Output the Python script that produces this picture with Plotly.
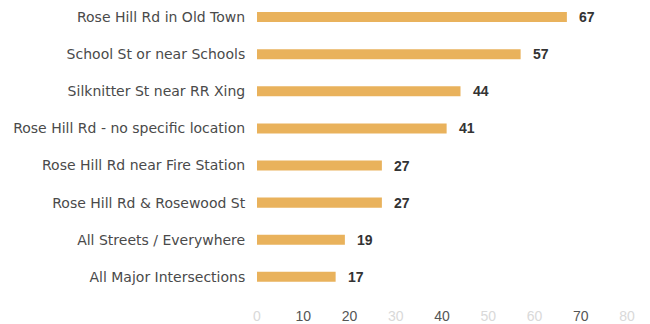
import plotly.graph_objects as go

# Survey responses by location
locations = [
    "Rose Hill Rd in Old Town",
    "School St or near Schools",
    "Silknitter St near RR Xing",
    "Rose Hill Rd - no specific location",
    "Rose Hill Rd near Fire Station",
    "Rose Hill Rd & Rosewood St",
    "All Streets / Everywhere",
    "All Major Intersections",
]
counts = [67, 57, 44, 41, 27, 27, 19, 17]

tick_vals = [0, 10, 20, 30, 40, 50, 60, 70, 80]
faint_ticks = {0, 30, 50, 60, 80}
tick_text = [
    f"<span style='color:#d9d9d9'>{v}</span>" if v in faint_ticks else str(v)
    for v in tick_vals
]

bar_color = "#E9B25C"
label_font = "DejaVu Sans, Verdana, sans-serif"
num_font = "Liberation Sans, Arial, sans-serif"

fig = go.Figure(
    go.Bar(
        x=counts,
        y=locations,
        orientation="h",
        marker=dict(color=bar_color, line=dict(width=0)),
        width=0.27,
    )
)

for loc, val in zip(locations, counts):
    fig.add_annotation(
        x=val, y=loc, text=f"<b>{val}</b>", showarrow=False,
        xanchor="left", xshift=10, yshift=0,
        font=dict(family=num_font, size=14, color="#333333"),
    )

fig.update_layout(
    width=650, height=324,
    margin=dict(l=257, r=23, t=0, b=26),
    paper_bgcolor="white", plot_bgcolor="white",
    showlegend=False,
    xaxis=dict(
        range=[0, 80], tickvals=tick_vals, ticktext=tick_text,
        showgrid=False, zeroline=False, showline=False,
        ticks="outside", ticklen=5, tickcolor="rgba(0,0,0,0)",
        tickfont=dict(family=num_font, size=14, color="#555555"),
    ),
    yaxis=dict(
        categoryorder="array", categoryarray=locations,
        autorange=False, range=[7.57, -0.46],
        showgrid=False, zeroline=False, showline=False,
        ticks="outside", ticklen=8, tickcolor="rgba(0,0,0,0)",
        tickfont=dict(family=label_font, size=14, color="#4a4a4a"),
    ),
)

fig.write_html("out.html")
